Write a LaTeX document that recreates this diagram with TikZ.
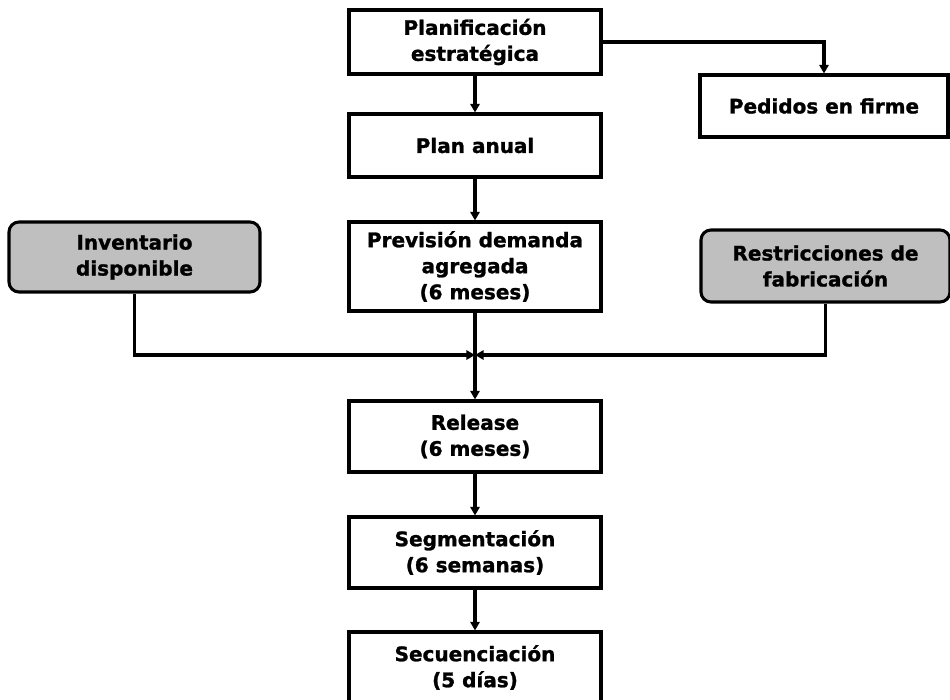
\documentclass[tikz,border=0pt]{standalone}
\usepackage{fontspec}
\setmainfont{DejaVu Sans}[BoldFeatures={FakeBold=1.3}]
\usetikzlibrary{arrows.meta}
\begin{document}
\begin{tikzpicture}[x=0.75pt,y=-0.75pt,
  every node/.style={font=\fontsize{15pt}{19.5pt}\selectfont\bfseries, align=center, inner sep=0pt},
  stepbox/.style={draw, line width=2.3pt, rectangle, minimum width=#1*0.75pt},
  stepbox/.default=252,
  inbox/.style={draw, line width=2.3pt, rectangle, rounded corners=7.5pt, fill=black!25, minimum width=#1*0.75pt},
  conn/.style={line width=2.3pt},
  arr/.style={conn, -{Triangle[length=6.5pt,width=7pt]}}
]
\useasboundingbox (0,0) rectangle (950,700);

\node[stepbox, minimum height=64*0.75pt] (plan) at (475,42) {Planificación\\estratégica};
\node[stepbox, minimum height=63*0.75pt] (anual) at (475,145.5) {Plan anual};
\node[stepbox, minimum height=89*0.75pt] (prev) at (475,266.5) {Previsión demanda\\agregada\\(6 meses)};
\node[stepbox, minimum height=71*0.75pt] (rel) at (475,436.5) {Release\\(6 meses)};
\node[stepbox, minimum height=71*0.75pt] (seg) at (475,552.5) {Segmentación\\(6 semanas)};
\node[stepbox, minimum height=71*0.75pt] (sec) at (475,667.5) {Secuenciación\\(5 días)};
\node[stepbox=248, minimum height=62*0.75pt] (ped) at (824,106) {Pedidos en firme};
\node[inbox=251, minimum height=70*0.75pt] (inv) at (134.5,257) {Inventario\\disponible};
\node[inbox=249, minimum height=72*0.75pt] (res) at (825.5,266) {Restricciones de\\fabricación};

\coordinate (J) at (475,355);

\draw[arr] (plan) -- (anual);
\draw[arr] (anual) -- (prev);
\draw[arr] (prev) -- (rel);
\draw[arr] (rel) -- (seg);
\draw[arr] (seg) -- (sec);
\draw[arr] (plan.east |- 0,42) -| (ped.north);
\draw[arr] (inv.south) |- (J);
\draw[arr] (res.south) |- (J);
\end{tikzpicture}
\end{document}
